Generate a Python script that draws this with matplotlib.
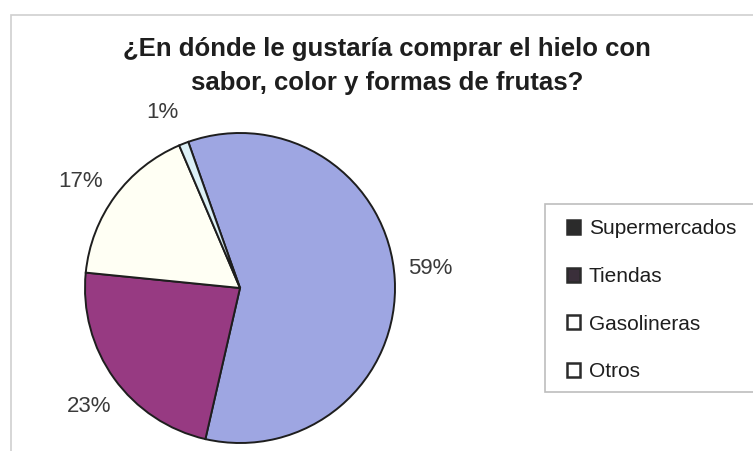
import numpy as np
import matplotlib.pyplot as plt
from matplotlib.patches import Patch, Rectangle

plt.rcParams['font.family'] = ['Liberation Sans', 'DejaVu Sans']

# survey answers
places = ['Supermercados', 'Tiendas', 'Gasolineras', 'Otros']
shares = [59, 23, 17, 1]
slice_colors = ['#9ea6e2', '#973a82', '#fffff4', '#dcf0f6']
legend_fill = ['#2b2b2b', '#3a2f3a', 'white', 'white']

title = '¿En dónde le gustaría comprar el hielo con\nsabor, color y formas de frutas?'

W, H = 753, 451
fig = plt.figure(figsize=(W / 100, H / 100), dpi=100)

# thin outer frame of the chart area
fig.patches.append(Rectangle((11 / W, -0.05), 1.0, (H - 15) / H + 0.05,
                             transform=fig.transFigure, fill=False,
                             edgecolor='#cfcfcf', linewidth=1.2))

# pie: center (240, 288) px, radius 155 px
cx, cy, r = 240, H - 288, 155
ax = fig.add_axes([(cx - r) / W, (cy - r) / H, 2 * r / W, 2 * r / H])
wedges, texts = ax.pie(
    shares, colors=slice_colors, startangle=109.5, counterclock=False,
    wedgeprops=dict(edgecolor='#1e1e1e', linewidth=1.4))
ax.set_xlim(-1, 1)
ax.set_ylim(-1, 1)
ax.set_aspect('equal')
ax.axis('off')

# percentage labels outside each slice
for w, v in zip(wedges, shares):
    mid = np.deg2rad((w.theta1 + w.theta2) / 2 + 2.5)
    ax.text(1.235 * np.cos(mid), 1.235 * np.sin(mid), f'{v}%',
            ha='center', va='center', fontsize=16, color='#3a3a3a')

fig.text(387 / W, 1 - 66 / H, title, ha='center', va='center',
         fontsize=18.5, fontweight='bold', color='#1e1e1e', linespacing=1.5)

# legend box runs off the right edge
fig.patches.append(Rectangle((545 / W, 1 - 392 / H), 230 / W, 188 / H,
                             transform=fig.transFigure, facecolor='white',
                             edgecolor='#bdbdbd', linewidth=1.2))

handles = []
for fill in legend_fill:
    handles.append(Patch(facecolor=fill, edgecolor='#2b2b2b', linewidth=1.8))
leg = fig.legend(handles, places, loc='upper left',
                 bbox_to_anchor=(554 / W, 1 - 207 / H), fontsize=15,
                 frameon=False,
                 handlelength=0.65, handleheight=0.65, handletextpad=0.42,
                 labelspacing=1.37, borderpad=0.6, borderaxespad=0)
for t in leg.get_texts():
    t.set_color('#1e1e1e')

fig.savefig('out.png', dpi=100, facecolor='white')
